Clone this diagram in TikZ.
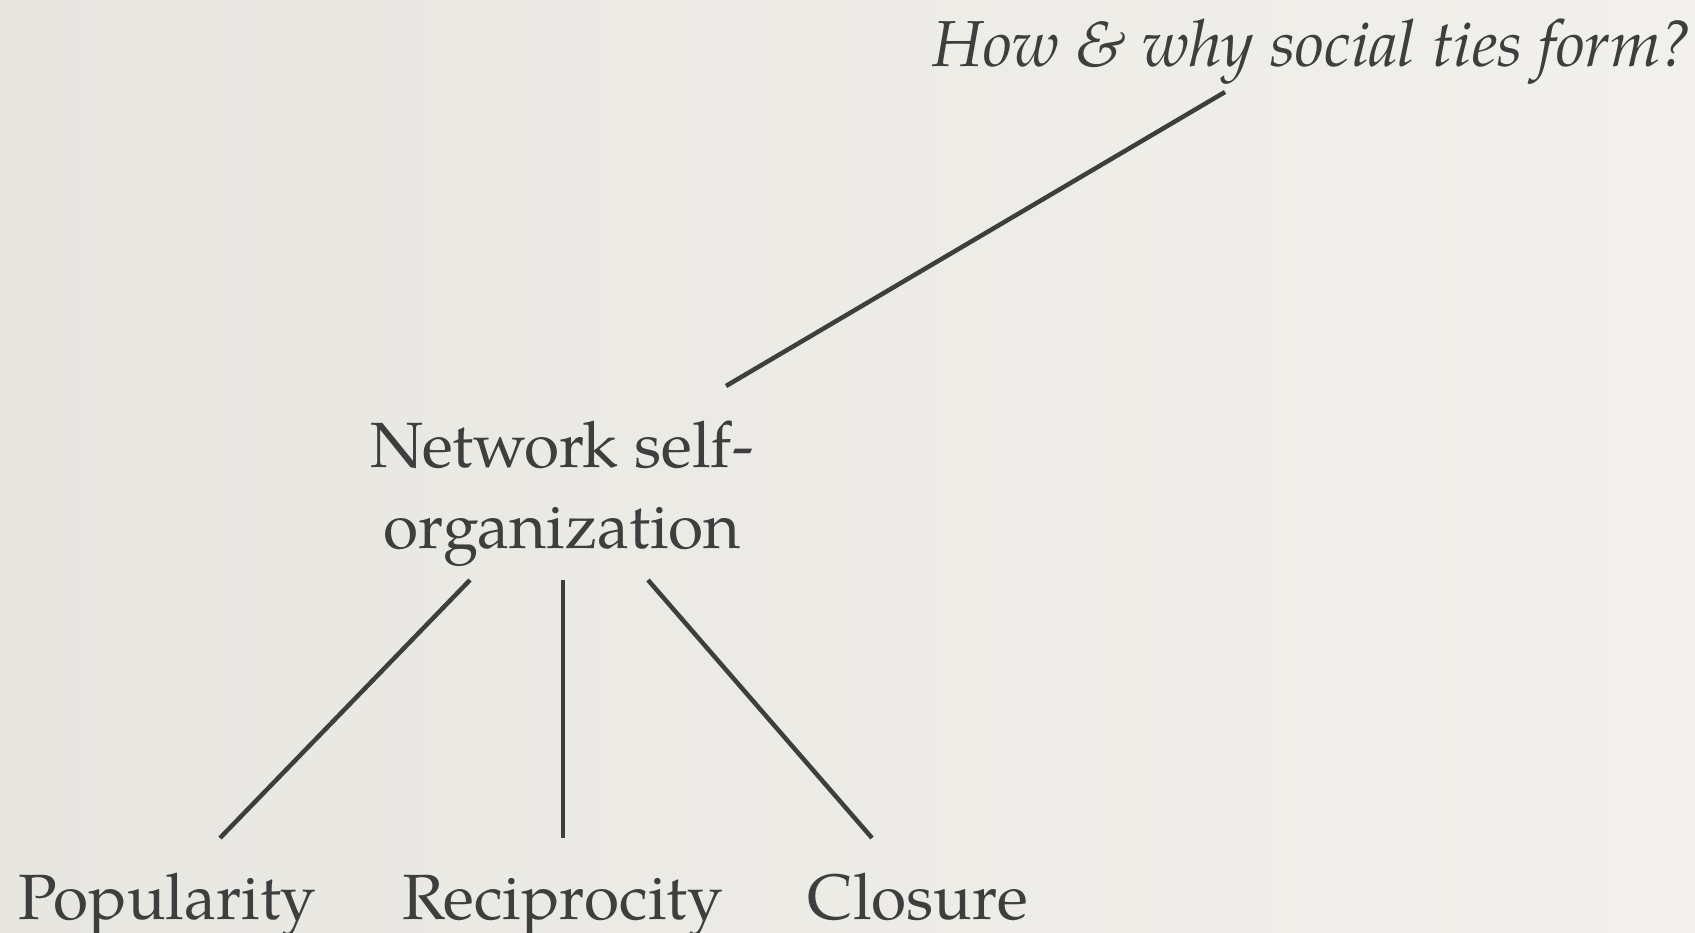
\documentclass[tikz,border=0pt]{standalone}
\usepackage{fontspec}
\setmainfont{texgyrepagella}[Extension=.otf, UprightFont=*-regular, ItalicFont=*-italic, BoldFont=*-bold]
\definecolor{paper}{RGB}{232,230,225}
\definecolor{paperlight}{RGB}{241,240,236}
\definecolor{ink}{RGB}{62,62,62}
\tikzset{
  lbl/.style={text=ink, font=\fontsize{64}{81}\selectfont, inner sep=0pt, anchor=base},
  conn/.style={draw=ink, line width=4.5pt},
}
\begin{document}
\begin{tikzpicture}[x=1pt,y=-1pt]
\shade[left color=paper, right color=paperlight] (0,0) rectangle (1695,933);
\useasboundingbox (0,0) rectangle (1695,933);
\clip (0,0) rectangle (1695,933);
\node[lbl, font=\fontsize{65}{80}\selectfont\itshape] (q) at (1313,67) {How \& why social ties form?};
\node[lbl, align=center] (nso) at (562,548) {Network self-\\organization};
\node[lbl] (pop) at (167.5,919) {Popularity};
\node[lbl] (rec) at (562.5,919) {Reciprocity};
\node[lbl] (clo) at (918,919) {Closure};
\coordinate (qe) at (1225,92);
\coordinate (nt) at (726,386);
\coordinate (nl) at (470,580);
\coordinate (nm) at (563,580);
\coordinate (nr) at (648,580);
\coordinate (pe) at (220,838);
\coordinate (re) at (563,838);
\coordinate (ce) at (872,838);
\draw[conn] (qe) -- (nt);
\draw[conn] (nl) -- (pe);
\draw[conn] (nm) -- (re);
\draw[conn] (nr) -- (ce);
\end{tikzpicture}
\end{document}
